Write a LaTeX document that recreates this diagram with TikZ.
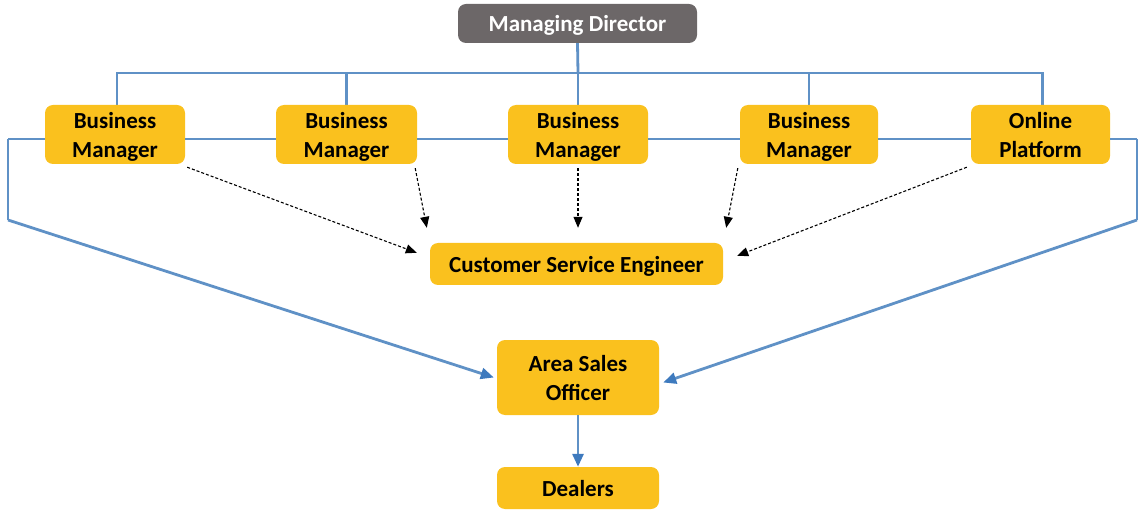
\documentclass[tikz,border=0pt]{standalone}
\usepackage{fontspec}
\setmainfont{Carlito}
\usetikzlibrary{arrows.meta,backgrounds,calc}
\definecolor{boxyellow}{RGB}{250,193,30}
\definecolor{mdgray}{RGB}{108,103,104}
\definecolor{linkblue}{RGB}{95,145,198}
\definecolor{tipblue}{RGB}{62,122,190}
\newcommand{\lowertext}[1]{\raisebox{-2.5pt}[\height][\depth]{\begin{tabular}{@{}c@{}}#1\end{tabular}}}
\begin{document}
\begin{tikzpicture}[x=1pt,y=-1pt,
  box/.style={fill=boxyellow,rounded corners=8pt,inner sep=0pt,align=center,
    font=\fontsize{23}{29}\selectfont\bfseries,text=black},
  topbox/.style={box,fill=mdgray,text=white},
  link/.style={draw=linkblue,line width=2.8pt},
  bluearrow/.style={link,-{Triangle[length=13pt,width=11pt,color=tipblue]}},
  dasharrow/.style={draw=black,line width=1.1pt,dash pattern=on 3pt off 2pt,
    -{Triangle[length=11pt,width=9pt]}}]
\useasboundingbox (0,0) rectangle (1139,510);
% nodes
\node[topbox,minimum width=239pt,minimum height=39pt] (md) at (577.5,23.5) {\lowertext{Managing Director}};
\node[box,minimum width=140pt,minimum height=59pt] (bm1) at (115,134.5) {\lowertext{Business\\Manager}};
\node[box,minimum width=141pt,minimum height=59pt] (bm2) at (346.5,134.5) {\lowertext{Business\\Manager}};
\node[box,minimum width=140pt,minimum height=59pt] (bm3) at (578,134.5) {\lowertext{Business\\Manager}};
\node[box,minimum width=138pt,minimum height=59pt] (bm4) at (809,134.5) {\lowertext{Business\\Manager}};
\node[box,minimum width=139pt,minimum height=59pt] (op) at (1040.5,134.5) {\lowertext{Online\\Platform}};
\node[box,minimum width=293pt,minimum height=42pt] (cse) at (576.5,264) {\lowertext{Customer Service Engineer}};
\node[box,minimum width=162pt,minimum height=75pt] (aso) at (578,377.5) {\lowertext{Area Sales\\Officer}};
\node[box,minimum width=162pt,minimum height=42pt] (dl) at (578,488) {\lowertext{Dealers}};
% coordinates
\coordinate (bus) at (578,73);
\coordinate (lt) at (8,139);
\coordinate (lb) at (8,220);
\coordinate (rt) at (1137,139);
\coordinate (rb) at (1137,220);
\begin{scope}[on background layer]
\draw[link] (md.south) -- (bus);
\draw[link] (bus) -- (bm3.north);
\draw[link] ([xshift=2pt]bm1.north) |- (bus) -| ([xshift=2pt]op.north);
\draw[link] (bm2.north) -- (bm2.north |- bus);
\draw[link] (bm4.north) -- (bm4.north |- bus);
\end{scope}
\draw[link] (lt) -- (bm1.west |- lt);
\draw[link] (op.east |- rt) -- (rt);
\draw[link] (bm1.east |- lt) -- (bm2.west |- lt);
\draw[link] (bm2.east |- lt) -- (bm3.west |- lt);
\draw[link] (bm3.east |- lt) -- (bm4.west |- lt);
\draw[link] (bm4.east |- lt) -- (op.west |- lt);
\draw[link,line join=miter] (lt) -- (lb);
\draw[link,line join=miter] (rt) -- (rb);
\draw[bluearrow] (lb) -- ([xshift=-3pt]aso.west);
\draw[bluearrow] (rb) -- ([xshift=4pt,yshift=-5pt]aso.east);
\draw[bluearrow] (aso.south) -- (dl.north);
% dashed arrows
\draw[dasharrow] ([xshift=2pt,yshift=-3pt]bm1.south east) -- ($(cse.north west)+(-13,10)$);
\draw[dasharrow] ([xshift=-2pt,yshift=-4pt]bm2.south east) -- ($(cse.north west)+(-3,-15)$);
\draw[dasharrow] ([yshift=-4pt]bm3.south) -- ([yshift=15pt]bm3.south |- cse.north);
\draw[dasharrow] ([xshift=-2pt,yshift=-4pt]bm4.south west) -- ($(cse.north east)+(3,-15)$);
\draw[dasharrow] ([xshift=-4pt,yshift=-3pt]op.south west) -- ($(cse.north east)+(14,13)$);
\end{tikzpicture}
\end{document}
